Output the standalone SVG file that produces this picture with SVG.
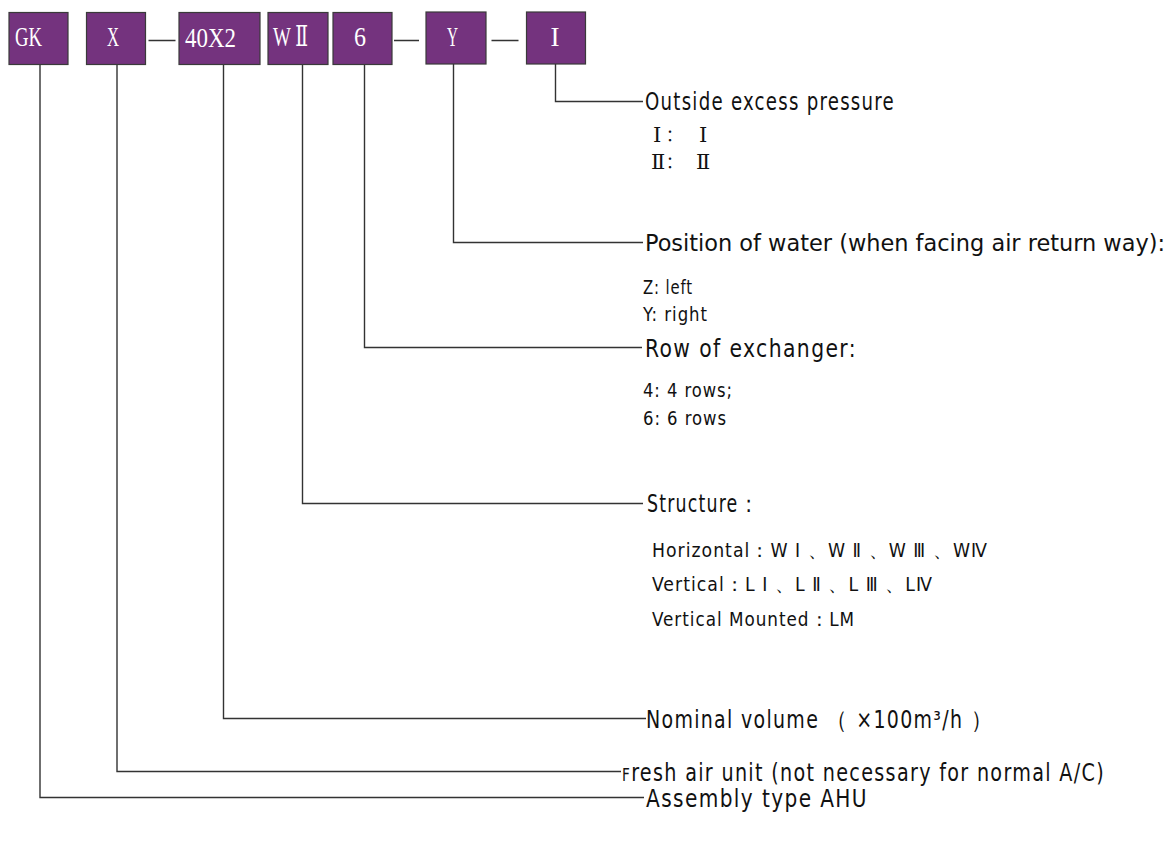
<svg xmlns="http://www.w3.org/2000/svg" width="1175" height="846" viewBox="0 0 1175 846">
<style>
.box{fill:#74337e;stroke:#3a3a3a;stroke-width:1.2}
.bt{font-family:"Liberation Serif","DejaVu Serif",serif;fill:#ffffff;font-size:27px}
.ln{fill:none;stroke:#333;stroke-width:1.4}
.h{font-family:"DejaVu Sans Condensed","Liberation Sans",sans-serif;font-size:24px;fill:#111;letter-spacing:1.5px}
.s{font-family:"DejaVu Sans Condensed","Liberation Sans",sans-serif;font-size:19px;fill:#111;letter-spacing:1px}
.r{font-family:"DejaVu Serif","Liberation Serif","Noto Sans CJK SC",serif;font-size:21px;fill:#111}
.c{font-family:"Noto Sans CJK SC",sans-serif;font-size:16px;fill:#111}
</style>
<rect width="1175" height="846" fill="#fff"/>
<g id="node-gk"><rect class="box" x="9" y="12.5" width="59" height="52"/><text class="bt" x="15" y="46" textLength="27" lengthAdjust="spacingAndGlyphs">GK</text></g>
<g id="node-x"><rect class="box" x="86.5" y="12.5" width="59" height="52"/><text class="bt" x="107" y="46" textLength="12" lengthAdjust="spacingAndGlyphs">X</text></g>
<g id="node-40x2"><rect class="box" x="179" y="12.5" width="81" height="52"/><text class="bt" x="185" y="47" textLength="51" lengthAdjust="spacingAndGlyphs">40X2</text></g>
<g id="node-w2"><rect class="box" x="268" y="12.5" width="60" height="52"/><text class="bt" x="273" y="46" textLength="35" lengthAdjust="spacingAndGlyphs">W Ⅱ</text></g>
<g id="node-6"><rect class="box" x="333" y="12.5" width="59" height="52"/><text class="bt" x="354" y="46" textLength="12" lengthAdjust="spacingAndGlyphs">6</text></g>
<g id="node-y"><rect class="box" x="426" y="12" width="60" height="52"/><text class="bt" x="447" y="46" textLength="11" lengthAdjust="spacingAndGlyphs">Y</text></g>
<g id="node-i"><rect class="box" x="526.5" y="12" width="59" height="52"/><text class="bt" x="550.5" y="46" textLength="9" lengthAdjust="spacingAndGlyphs">I</text></g>
<g id="connectors">
<path class="ln" d="M148.5 40.5H175.5M394 40.5H419M491.5 40.5H518.5"/>
<path class="ln" d="M555.5 64V101.5H643" stroke-width="1.8"/>
<path class="ln" d="M453.5 64V242.5H643"/>
<path class="ln" d="M364.5 65V347.5H642"/>
<path class="ln" d="M302.5 65V503.5H643"/>
<path class="ln" d="M223.5 65V718.5H646"/>
<path class="ln" d="M117 65V771.5H621"/>
<path class="ln" d="M40 65V797.5H644"/>
</g>
<g id="labels">
<text class="h" x="645" y="110" textLength="250" lengthAdjust="spacingAndGlyphs">Outside excess pressure</text>
<text class="r" x="653" y="142">Ⅰ</text><text class="c" x="666" y="141">：</text><text class="r" x="699" y="142">Ⅰ</text>
<text class="r" x="651" y="169">Ⅱ</text><text class="c" x="666" y="168">：</text><text class="r" x="696" y="169">Ⅱ</text>
<text class="h" x="645" y="251" style="letter-spacing:0;font-size:23px" textLength="520" lengthAdjust="spacingAndGlyphs">Position of water (when facing air return way):</text>
<text class="s" x="643" y="294" textLength="50" lengthAdjust="spacingAndGlyphs">Z: left</text>
<text class="s" x="643" y="321" textLength="65" lengthAdjust="spacingAndGlyphs">Y: right</text>
<text class="h" x="645" y="357" textLength="212" lengthAdjust="spacingAndGlyphs">Row of exchanger:</text>
<text class="s" x="643" y="397" textLength="90" lengthAdjust="spacingAndGlyphs">4: 4 rows;</text>
<text class="s" x="643" y="425" textLength="84" lengthAdjust="spacingAndGlyphs">6: 6 rows</text>
<text class="h" x="647" y="512" textLength="112" lengthAdjust="spacingAndGlyphs">Structure：</text>
<text class="s" x="652" y="557" textLength="336" lengthAdjust="spacingAndGlyphs">Horizontal：W Ⅰ 、W Ⅱ 、W Ⅲ 、WⅣ</text>
<text class="s" x="652" y="591" textLength="281" lengthAdjust="spacingAndGlyphs">Vertical：L Ⅰ 、L Ⅱ 、L Ⅲ 、LⅣ</text>
<text class="s" x="652" y="626" textLength="203" lengthAdjust="spacingAndGlyphs">Vertical Mounted：LM</text>
<text class="h" x="646" y="728" textLength="347" lengthAdjust="spacingAndGlyphs">Nominal volume （ ×100m³/h ）</text>
<text class="h" x="622" y="781" textLength="483" lengthAdjust="spacingAndGlyphs"><tspan style="font-size:17px">F</tspan>resh air unit (not necessary for normal A/C)</text>
<text class="h" x="646" y="807" textLength="222" lengthAdjust="spacingAndGlyphs">Assembly type AHU</text>
</g>
</svg>
